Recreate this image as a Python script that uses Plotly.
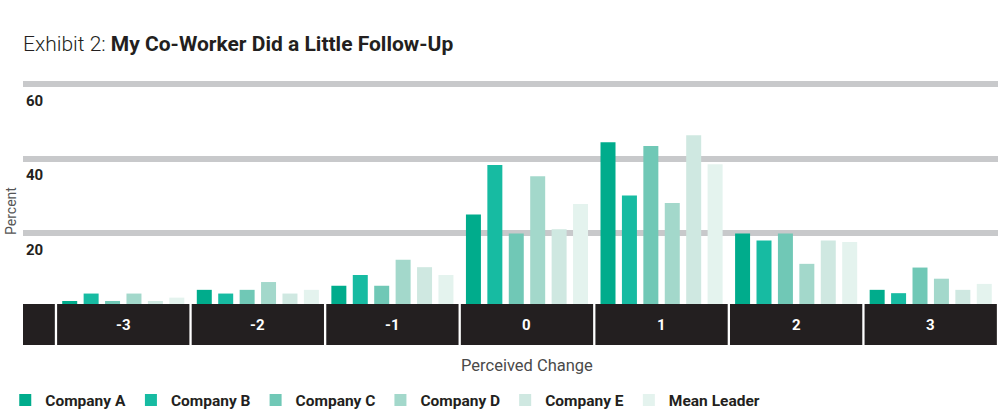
import plotly.graph_objects as go

categories = ["-3", "-2", "-1", "0", "1", "2", "3"]
series_names = ["Company A", "Company B", "Company C", "Company D", "Company E", "Mean Leader"]
company_a = [1.7, 4.7, 5.8, 25.0, 44.4, 19.9, 4.7]
company_b = [3.7, 3.7, 8.7, 38.3, 30.1, 18.0, 3.8]
company_c = [1.7, 4.7, 5.8, 19.9, 43.4, 19.9, 10.7]
company_d = [3.7, 6.8, 12.8, 35.3, 28.1, 11.7, 7.7]
company_e = [1.7, 3.7, 10.8, 21.0, 46.3, 18.0, 4.7]
mean_leader = [2.6, 4.7, 8.7, 27.8, 38.5, 17.6, 6.3]
y_tick_values = [20, 40, 60]
y_tick_labels = ["20", "40", "60"]

series_values = [company_a, company_b, company_c, company_d, company_e, mean_leader]
colors = ["#00AC8C", "#17BBA2", "#70C8B6", "#A3D8CB", "#CFE8E1", "#E4F3EE"]

FONT = "Roboto"
DARK = "#231F20"

fig = go.Figure()
for name, vals, col in zip(series_names, series_values, colors):
    fig.add_trace(go.Bar(
        name=name, x=categories, y=vals,
        marker=dict(color=col, line=dict(width=0)),
    ))

Y_MIN, Y_MAX = -10.15, 62
X_MIN, X_MAX = -0.745, 6.5
BAND_TOP = 0.9
g = 0.0085

shapes = []
# left stub of the category band
shapes.append(dict(type="rect", xref="x", yref="y", x0=X_MIN, x1=-0.5 - g,
                   y0=Y_MIN, y1=BAND_TOP, fillcolor=DARK, line=dict(width=0), layer="above"))
annotations = []
for i, c in enumerate(categories):
    shapes.append(dict(type="rect", xref="x", yref="y", x0=i - 0.5 + g, x1=i + 0.5 - g,
                       y0=Y_MIN, y1=BAND_TOP, fillcolor=DARK, line=dict(width=0), layer="above"))
    annotations.append(dict(x=i, y=-4.7, xref="x", yref="y", text=c, showarrow=False,
                            font=dict(family=FONT, size=15, color="white", weight="bold")))

annotations.append(dict(x=(len(categories) - 1) / 2, y=-0.078, xref="x", yref="paper",
                        text="Perceived Change", showarrow=False, yanchor="middle",
                        font=dict(family=FONT, size=16.5, color="#4A4A4A")))

fig.update_layout(
    width=999, height=420,
    margin=dict(l=23, r=1, t=76.5, b=74.7, autoexpand=False),
    paper_bgcolor="white", plot_bgcolor="white",
    barmode="group", bargap=0.045, bargroupgap=0.3,
    title=dict(text="Exhibit 2: <b>My Co-Worker Did a Little Follow-Up</b>",
               x=23 / 999, xanchor="left", y=1 - 44 / 420, yanchor="middle",
               font=dict(family=FONT, size=21, color=DARK, weight=300)),
    xaxis=dict(type="category", range=[X_MIN, X_MAX], showticklabels=False,
               showgrid=False, zeroline=False, showline=False, ticks=""),
    yaxis=dict(range=[Y_MIN, Y_MAX], tickvals=y_tick_values, ticktext=y_tick_labels,
               ticklabelposition="inside bottom", ticklabelshift=6,
               showgrid=True, gridcolor="#C8C9CB",
               gridwidth=6, zeroline=False, showline=False, ticks="",
               tickfont=dict(family=FONT, size=15, color=DARK, weight="bold"),
               title=dict(text="Percent", standoff=6,
                          font=dict(family=FONT, size=14, color="#555555"))),
    legend=dict(orientation="h", x=-0.0182, xanchor="left", y=-0.207, yanchor="middle",
                traceorder="normal",
                font=dict(family=FONT, size=15.5, color=DARK, weight="bold")),
    shapes=shapes, annotations=annotations,
)

fig.write_html("out.html", config={"displayModeBar": False},
               post_script="document.body.style.margin='0';")
